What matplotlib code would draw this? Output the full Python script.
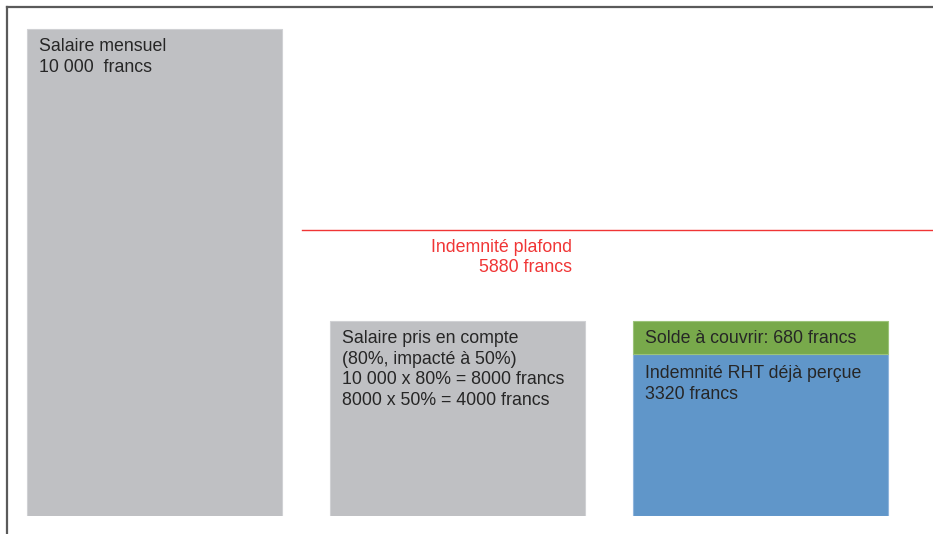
import matplotlib
matplotlib.use('Agg')
import matplotlib.pyplot as plt
from matplotlib.lines import Line2D

plt.rcParams['font.family'] = ['Liberation Sans', 'DejaVu Sans']

# montants en francs
salaire = 10000
salaire_pris = 4000
indemnite_recue = 3320
solde = 680
plafond = 5880

labels_salaire = "Salaire mensuel\n10 000  francs"
labels_pris = ("Salaire pris en compte\n(80%, impacté à 50%)\n"
               "10 000 x 80% = 8000 francs\n8000 x 50% = 4000 francs")
label_solde = "Solde à couvrir: 680 francs"
label_recue = "Indemnité RHT déjà perçue\n3320 francs"
label_plafond = "Indemnité plafond\n5880 francs"

GRIS = '#bfc0c3'
VERT = '#78a94b'
BLEU = '#6096c9'
ROUGE = '#f03535'
TEXTE = '#262626'
W = 0.8416

fig = plt.figure(figsize=(9.33, 5.34), dpi=100)
ax = fig.add_axes([7 / 933, 18 / 534, 926 / 933, 509 / 534])
ax.set_xlim(-0.4868, 2.569)
ax.set_ylim(0, 10452)
ax.axis('off')

ax.bar(0, salaire, W, color=GRIS, edgecolor='#d0d1d4', linewidth=0.8)
ax.bar(1, salaire_pris, W, color=GRIS, edgecolor='#d0d1d4', linewidth=0.8)
ax.bar(2, indemnite_recue, W, color=BLEU, edgecolor='#8fb5dc', linewidth=0.8)
ax.bar(2, solde, W, bottom=indemnite_recue, color=VERT, edgecolor='#9cc37a', linewidth=0.8)

ax.axhline(plafond, xmin=(0.487 + 0.4868) / (2.569 + 0.4868), xmax=1,
           color=ROUGE, linewidth=1)

fs = 12.8
ls = 1.28
kw = dict(textcoords='offset pixels', ha='left', va='top', fontsize=fs,
          color=TEXTE, linespacing=ls)
ax.annotate(labels_salaire, (-W / 2, salaire), xytext=(12, -9), **kw)
ax.annotate(labels_pris, (1 - W / 2, salaire_pris), xytext=(12, -9), **kw)
ax.annotate(label_recue, (2 - W / 2, indemnite_recue), xytext=(12, -11), **kw)
ax.annotate(label_solde, (2 - W / 2, indemnite_recue + solde / 2),
            xytext=(12, -1), textcoords='offset pixels', ha='left',
            va='center', fontsize=fs, color=TEXTE)
ax.annotate(label_plafond, (0.487, plafond), xytext=(270, -9),
            textcoords='offset pixels', ha='right', va='top', fontsize=fs,
            color=ROUGE, linespacing=ls, multialignment='right')

# cadre gris en haut et à gauche
fig.add_artist(Line2D([7 / 933, 1], [1 - 7 / 534, 1 - 7 / 534],
                      color='#5a5a5a', linewidth=1.6))
fig.add_artist(Line2D([7 / 933, 7 / 933], [0, 1 - 7 / 534],
                      color='#5a5a5a', linewidth=1.6))

fig.savefig('out.png', dpi=100)
